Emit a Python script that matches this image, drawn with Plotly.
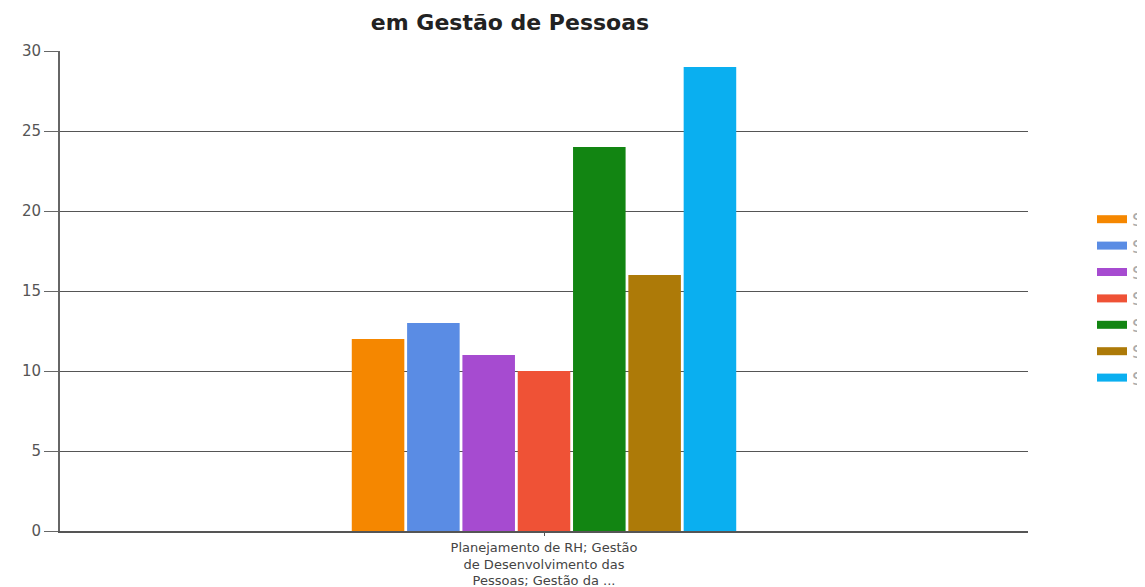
import plotly.graph_objects as go

categories = ["Planejamento de RH; Gestão<br>de Desenvolvimento das<br>Pessoas; Gestão da ..."]
series_names = ["Série 1", "Série 2", "Série 3", "Série 4", "Série 5", "Série 6", "Série 7"]
series_values = [12, 13, 11, 10, 24, 16, 29]
series_colors = ["#f58700", "#5a8ce4", "#a64bd0", "#ef5236", "#128512", "#ad7a08", "#0aaff0"]
y_ticks = [0, 5, 10, 15, 20, 25, 30]

W, H = 1137, 579  # page body has an 8px margin

fig = go.Figure()
for name, val, col in zip(series_names, series_values, series_colors):
    fig.add_trace(go.Bar(
        x=categories, y=[val], name=name, showlegend=False,
        marker=dict(color=col, line=dict(width=0)),
    ))
for name, col in zip(series_names, series_colors):
    fig.add_trace(go.Scatter(
        x=[None], y=[None], name=name, mode="lines",
        line=dict(color=col, width=8), showlegend=True,
    ))

fig.update_layout(
    width=W, height=H,
    margin=dict(l=52, r=117, t=43, b=56, autoexpand=False),
    paper_bgcolor="white", plot_bgcolor="white",
    font=dict(family="DejaVu Sans", color="#444"),
    title=dict(text="<b>em Gestão de Pessoas</b>", x=502/W, xanchor="center",
               y=1 - 14/H, yanchor="middle", yref="container", automargin=False,
               font=dict(family="DejaVu Sans", size=22, color="#222")),
    bargap=0.6, bargroupgap=0.05, barmode="group",
    legend=dict(xref="container", yref="container", x=1084/W, y=1 - 193/H,
                xanchor="left", yanchor="top", font=dict(size=18, color="#aaa"),
                bgcolor="rgba(0,0,0,0)", itemclick=False),
    xaxis=dict(showline=True, linecolor="#555", linewidth=2, ticks="outside",
               ticklen=3, tickcolor="#555", tickfont=dict(size=13, color="#444"),
               showgrid=False, fixedrange=True, automargin=False),
    yaxis=dict(range=[0, 30], tickvals=y_ticks, showline=True, linecolor="#666",
               linewidth=2, ticks="outside", ticklen=14, tickcolor="#666",
               showgrid=True, gridcolor="#555", gridwidth=1, zeroline=False,
               tickfont=dict(size=15, color="#555"), fixedrange=True, automargin=False),
)

fig.write_html("out.html")
